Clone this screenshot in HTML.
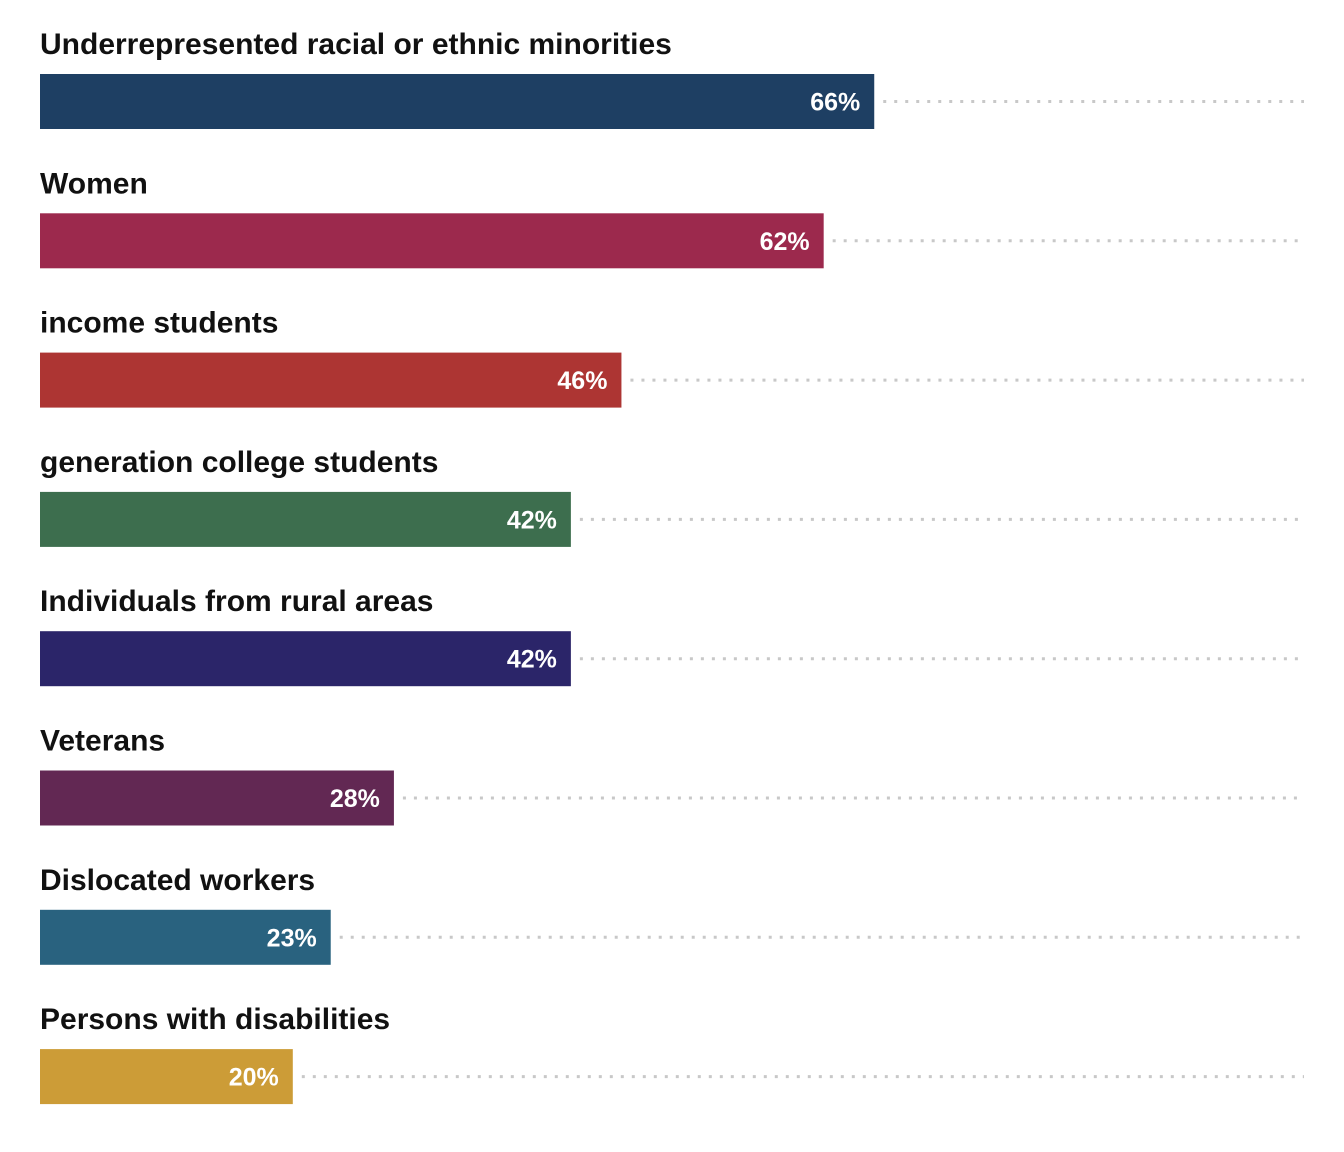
<!DOCTYPE html>
<html><head><meta charset="utf-8">
<style>
html,body{margin:0;padding:0;background:#fff;}
svg{display:block;}
text{font-family:"Liberation Sans",sans-serif;font-weight:bold;}
</style></head>
<body>
<svg id="chart" width="1344" height="1152" viewBox="0 0 1344 1152" xmlns="http://www.w3.org/2000/svg"></svg>
<script>
const categories = ["Underrepresented racial or ethnic minorities","Women","income students","generation college students","Individuals from rural areas","Veterans","Dislocated workers","Persons with disabilities"];
const values = [66,62,46,42,42,28,23,20];
const colors = ["#1e3f63","#9c294d","#ad3533","#3d6e4e","#2b2569","#622853","#29627f","#cc9c37"];

const NS="http://www.w3.org/2000/svg";
const svg=document.getElementById('chart');
const x0=40, x1=1304;
const xScale=v=>x0+(v/100)*(x1-x0);
const rowTop=i=>74+i*139.3;
const barH=55;
function mk(tag,attrs){const e=document.createElementNS(NS,tag);for(const k in attrs)e.setAttribute(k,attrs[k]);return e;}
categories.forEach((c,i)=>{
  const y=rowTop(i);
  const g=mk('g',{});
  
  
  const lab=mk('text',{x:x0,y:y-20,'font-size':30,fill:'#111'});
  
  
  lab.textContent=c;g.appendChild(lab);
  const xe=xScale(values[i]);
  const r=mk('rect',{x:x0,y:y,width:xe-x0,height:barH,fill:colors[i]});
  
  
  g.appendChild(r);
  const ln=mk('line',{x1:xe+9,x2:x1,y1:y+barH/2,y2:y+barH/2,stroke:'#c8c8c8','stroke-width':3,'stroke-dasharray':'3 8'});
  
  
  g.appendChild(ln);
  const vt=mk('text',{x:xe-14,y:y+barH/2+9,'font-size':25,fill:'#fff','text-anchor':'end'});
  
  
  vt.textContent=values[i]+'%';g.appendChild(vt);
  svg.appendChild(g);
});
</script>
</body></html>
